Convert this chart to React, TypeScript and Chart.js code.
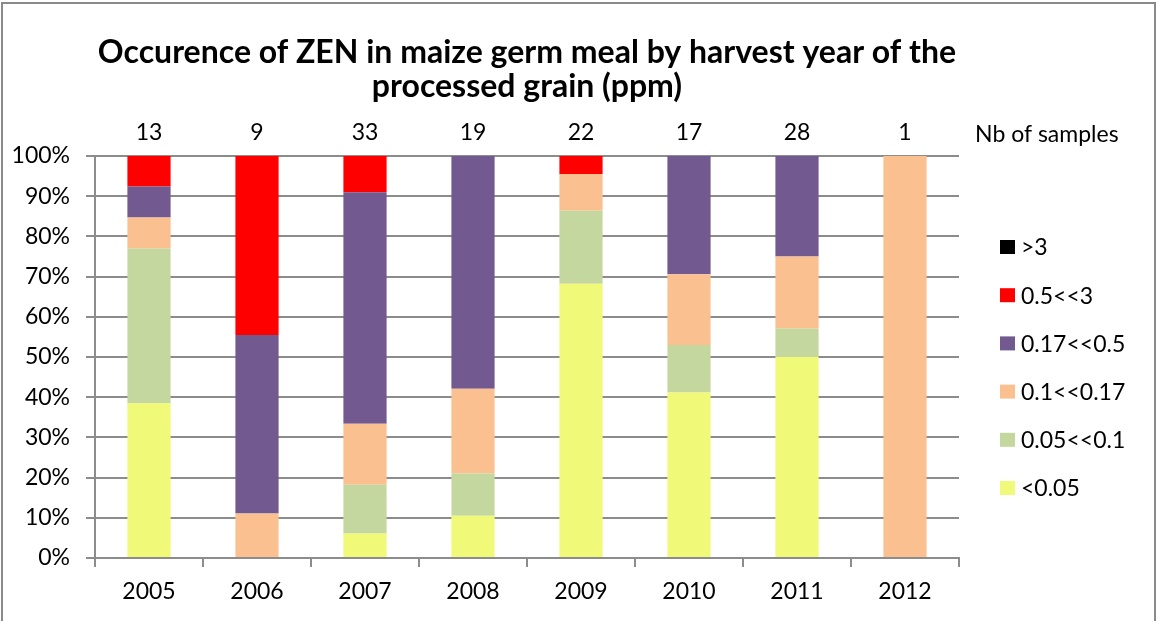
import { useEffect, useRef } from 'react';
import { Chart, registerables } from 'chart.js';

Chart.register(...registerables);

const years = ['2005', '2006', '2007', '2008', '2009', '2010', '2011', '2012'];
const sampleCounts = [13, 9, 33, 19, 22, 17, 28, 1];

// percentage of samples per class, per harvest year
const below005 = [38.5, 0, 6.1, 10.5, 68.2, 41.2, 50.0, 0];
const from005to01 = [38.5, 0, 12.1, 10.5, 18.2, 11.8, 7.1, 0];
const from01to017 = [7.7, 11.1, 15.2, 21.1, 9.1, 17.6, 17.9, 100];
const from017to05 = [7.7, 44.4, 57.6, 57.9, 0, 29.4, 25.0, 0];
const from05to3 = [7.6, 44.5, 9.0, 0, 4.5, 0, 0, 0];
const above3 = [0, 0, 0, 0, 0, 0, 0, 0];

const classLabels = ['<0.05', '0.05<<0.1', '0.1<<0.17', '0.17<<0.5', '0.5<<3', '>3'];
const classColors = ['#F0FA78', '#C4D79E', '#FAC090', '#72598F', '#FF0000', '#000000'];

const yTicks = [0, 10, 20, 30, 40, 50, 60, 70, 80, 90, 100];

const titleLines = ['Occurence of ZEN in maize germ meal by harvest year of the', 'processed grain (ppm)'];
const samplesLabel = 'Nb of samples';

const FONT = 'Lato';
const AXIS_GREY = '#8c8c8c';

export default function App() {
  const ref = useRef<HTMLCanvasElement | null>(null);

  useEffect(() => {
    document.body.style.margin = '0';
    const canvas = ref.current;
    if (!canvas) return;

    const series = [below005, from005to01, from01to017, from017to05, from05to3, above3];

    const overlay = {
      id: 'overlay',
      afterDraw(chart: any) {
        const ctx = chart.ctx as CanvasRenderingContext2D;
        const xScale = chart.scales.x;
        ctx.save();
        // outer frame
        ctx.strokeStyle = '#8a8a8a';
        ctx.lineWidth = 2;
        ctx.beginPath();
        ctx.moveTo(2, 625);
        ctx.lineTo(2, 3);
        ctx.lineTo(1155, 3);
        ctx.lineTo(1155, 625);
        ctx.stroke();

        // title
        ctx.fillStyle = '#000';
        ctx.textAlign = 'center';
        ctx.textBaseline = 'alphabetic';
        ctx.font = `bold 32px ${FONT}`;
        ctx.fillText(titleLines[0], 527, 63);
        ctx.fillText(titleLines[1], 527, 97);

        // sample counts
        ctx.font = `23px ${FONT}`;
        sampleCounts.forEach((n, i) => {
          ctx.fillText(String(n), xScale.getPixelForValue(i), 140);
        });
        ctx.textAlign = 'left';
        ctx.fillText(samplesLabel, 975, 142);

        // legend (top to bottom: highest class first)
        const ds = chart.data.datasets;
        const order = ds.map((_: any, i: number) => i).reverse();
        order.forEach((di: number, k: number) => {
          const cy = 247 + k * 48.2;
          ctx.fillStyle = ds[di].backgroundColor;
          ctx.fillRect(1000, cy - 7, 15, 14);
          ctx.fillStyle = '#000';
          ctx.textBaseline = 'middle';
          ctx.fillText(ds[di].label, 1021, cy + 1);
        });
        ctx.restore();
      },
    };

    const chart = new Chart(canvas, {
      type: 'bar',
      data: {
        labels: years,
        datasets: series.map((d, i) => ({
          label: classLabels[i],
          data: d,
          backgroundColor: classColors[i],
          borderWidth: 0,
          categoryPercentage: 1,
          barPercentage: 0.4,
        })),
      },
      options: {
        responsive: false,
        animation: false,
        layout: { padding: { top: 156, right: 198, left: 0, bottom: 0 } },
        plugins: {
          legend: { display: false },
          title: { display: false },
          tooltip: { enabled: false },
        },
        scales: {
          x: {
            stacked: true,
            afterFit: (s: any) => {
              s.height = 63;
            },
            grid: {
              drawOnChartArea: false,
              drawTicks: true,
              tickLength: 9,
              color: AXIS_GREY,
              lineWidth: 2,
              offset: true,
            },
            border: { color: AXIS_GREY, width: 2 },
            ticks: {
              color: '#000',
              font: { family: FONT, size: 23 },
              padding: 11,
              maxRotation: 0,
            },
          },
          y: {
            stacked: true,
            min: 0,
            max: 100,
            afterFit: (s: any) => {
              s.width = 95;
            },
            afterBuildTicks: (s: any) => {
              s.ticks = yTicks.map((v) => ({ value: v }));
            },
            grid: {
              color: AXIS_GREY,
              lineWidth: 2,
              tickLength: 9,
              drawTicks: true,
            },
            border: { color: AXIS_GREY, width: 2 },
            ticks: {
              color: '#000',
              font: { family: FONT, size: 23 },
              padding: 16,
              callback: (v: any) => `${v}%`,
            },
          },
        },
      },
      plugins: [overlay],
    });

    return () => chart.destroy();
  }, []);

  return (
    <div style={{ width: 1157, height: 621, background: '#fff' }}>
      <canvas ref={ref} width={1157} height={621} />
    </div>
  );
}
